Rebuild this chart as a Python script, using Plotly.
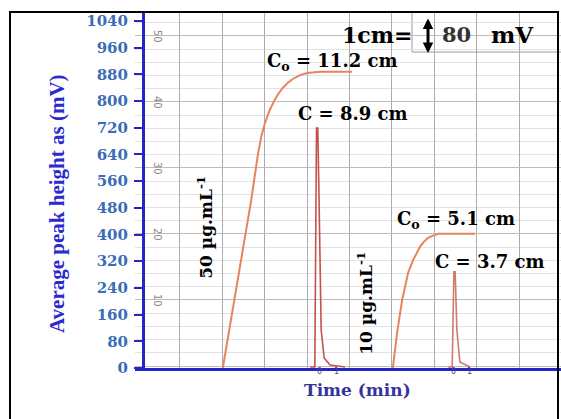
import plotly.graph_objects as go

# ---------------- data ----------------
# time axis in chart-paper divisions (arbitrary units), heights in mV
curve50_t = [2.01, 2.35, 2.68, 2.84, 2.92, 3.00, 3.05, 3.11, 3.22, 3.32, 3.43, 3.55, 3.67, 3.83, 4.00, 4.30, 5.06]
curve50_h = [0, 256, 503, 642, 695, 733, 752, 771, 800, 822, 840, 856, 867, 878, 884, 888, 888]

spike50_t = [4.07, 4.18, 4.22, 4.25, 4.28, 4.33, 4.40, 4.54, 4.89]
spike50_h = [3, 3, 719, 719, 503, 114, 30, 9, 3]

curve10_t = [6.02, 6.12, 6.24, 6.38, 6.50, 6.66, 6.75, 6.85, 6.95, 7.09, 7.96]
curve10_h = [0, 105, 204, 285, 324, 363, 378, 390, 396, 402, 402]

spike10_t = [7.32, 7.42, 7.46, 7.49, 7.53, 7.60, 7.84]
spike10_h = [3, 3, 288, 288, 114, 18, 3]

y_ticks = [0, 80, 160, 240, 320, 400, 480, 560, 640, 720, 800, 880, 960, 1040]
paper_numbers = [10, 20, 30, 40, 50]
vgrid = [1, 2, 3, 4, 5, 6, 7, 8, 9]

# ---------------- figure ----------------
W, H = 561, 419
L, R, T, B = 135, 0, 13, 51
BLUE = "#2424c8"
TICKBLUE = "#3a6db5"

fig = go.Figure()

fig.add_trace(go.Scatter(x=curve50_t, y=curve50_h, mode="lines",
                         line=dict(color="#e8845c", width=2),
                         hoverinfo="skip", showlegend=False))
fig.add_trace(go.Scatter(x=spike50_t, y=spike50_h, mode="lines",
                         line=dict(color="#c4514a", width=1.6),
                         hoverinfo="skip", showlegend=False))
fig.add_trace(go.Scatter(x=curve10_t, y=curve10_h, mode="lines",
                         line=dict(color="#e8845c", width=2),
                         hoverinfo="skip", showlegend=False))
fig.add_trace(go.Scatter(x=spike10_t, y=spike10_h, mode="lines",
                         line=dict(color="#d07a6a", width=1.6),
                         hoverinfo="skip", showlegend=False))
# invisible trace to activate chart-paper axis
fig.add_trace(go.Scatter(x=[0.46] * len(paper_numbers), y=paper_numbers, yaxis="y2",
                         mode="markers", marker=dict(opacity=0),
                         hoverinfo="skip", showlegend=False))

SERIF_B = "DejaVu Serif"

ann = []
def txt(x, y, s, size=18, color="black", angle=0, xref="x", yref="y", family=SERIF_B):
    ann.append(dict(x=x, y=y, xref=xref, yref=yref, text="<b>%s</b>" % s,
                    showarrow=False, textangle=angle,
                    font=dict(family=family, size=size, color=color)))

txt(4.585, 917, "C<sub>o</sub> = 11.2 cm", 18)
txt(5.08, 764, "C = 8.9 cm", 18)
txt(7.51, 444, "C<sub>o</sub> = 5.1 cm", 18)
txt(8.31, 318, "C = 3.7 cm", 18)
txt(1.59, 420, "50 µg.mL<sup>-1</sup>", 17, angle=-90)
txt(5.36, 195, "10 µg.mL<sup>-1</sup>", 17, angle=-90)
txt(5.65, 998, "1cm=", 22)
txt(7.51, 1001, "80", 21, color="#333333")
txt(8.84, 1001, "mV", 23)

# chart-paper numbering
for v in paper_numbers:
    ann.append(dict(x=0.46, y=v, xref="x", yref="y2", text=str(v), showarrow=False,
                    textangle=90, font=dict(family="DejaVu Sans", size=10, color="#8a8a8a")))

# small 0 / 1 marks under spikes
for xv, s in [(4.30, "0"), (4.70, "1"), (7.44, "0"), (7.82, "1")]:
    ann.append(dict(x=xv, y=-0.027, xref="x", yref="paper", text=s, showarrow=False,
                    font=dict(family="DejaVu Sans", size=8, color="#4a4a6a")))

# scale arrow 1 cm = 80 mV
ann.append(dict(x=6.85, y=0.8876, xref="x", yref="paper", text="", showarrow=True,
                ax=0, ay=-36, arrowhead=2, arrowside="end+start", arrowwidth=3,
                arrowsize=0.7, arrowcolor="black"))

# axis titles
ann.append(dict(x=(43 - L) / (W - L - R), y=(368 - 204) / (368 - T), xref="paper", yref="paper",
                text="<b>Average peak height as (mV)</b>", textangle=-90, showarrow=False,
                font=dict(family="Liberation Serif", size=21, color="#2a2ad0")))
ann.append(dict(x=(357 - L) / (W - L - R), y=(368 - 402) / (368 - T), xref="paper", yref="paper",
                text="<b>Time (min)</b>", showarrow=False,
                font=dict(family=SERIF_B, size=17, color="#34349c")))

pw = W - L - R
ph = H - T - B
shapes = [
    # outer frame of the figure
    dict(type="rect", xref="paper", yref="paper",
         x0=(10 - L) / pw, x1=(558 - L) / pw,
         y0=(368 - 430) / ph, y1=(368 - 12) / ph,
         line=dict(color="black", width=2), fillcolor="rgba(0,0,0,0)", layer="above"),
    # box around the scale label
    dict(type="line", xref="paper", yref="paper",
         x0=(412 - L) / pw, x1=(412 - L) / pw, y0=(368 - 52) / ph, y1=1,
         line=dict(color="#9a9a9a", width=1), layer="below"),
    dict(type="line", xref="paper", yref="paper",
         x0=(412 - L) / pw, x1=1, y0=(368 - 52) / ph, y1=(368 - 52) / ph,
         line=dict(color="#9a9a9a", width=1), layer="below"),
]

fig.update_layout(
    width=W, height=H,
    margin=dict(l=L, r=R, t=T, b=B, pad=0),
    paper_bgcolor="white", plot_bgcolor="white",
    showlegend=False,
    xaxis=dict(range=[-0.061, 9.986], showline=True, linecolor=BLUE, linewidth=3,
               showticklabels=False, ticks="", tickvals=vgrid, showgrid=True,
               gridcolor="#acacac", gridwidth=1, zeroline=False, fixedrange=True),
    yaxis=dict(range=[0, 1064], anchor="free", position=8 / pw,
               tickvals=y_ticks, ticktext=[str(v) for v in y_ticks],
               ticks="outside", ticklen=8, tickwidth=2, tickcolor=BLUE,
               showline=True, linecolor=BLUE, linewidth=3,
               showgrid=False, zeroline=False, ticklabelstandoff=3,
               tickfont=dict(family=SERIF_B, size=15, color=TICKBLUE, weight="bold")),
    yaxis2=dict(range=[-0.303, 53.48], overlaying="y", anchor="x",
                showticklabels=False, ticks="", showline=False, zeroline=False,
                dtick=10, tick0=0, showgrid=True, gridcolor="#bdbdbd", gridwidth=1,
                minor=dict(dtick=2, showgrid=True, gridcolor="#e2e2e2", gridwidth=1)),
    annotations=ann,
    shapes=shapes,
)

fig.write_html("out.html")
